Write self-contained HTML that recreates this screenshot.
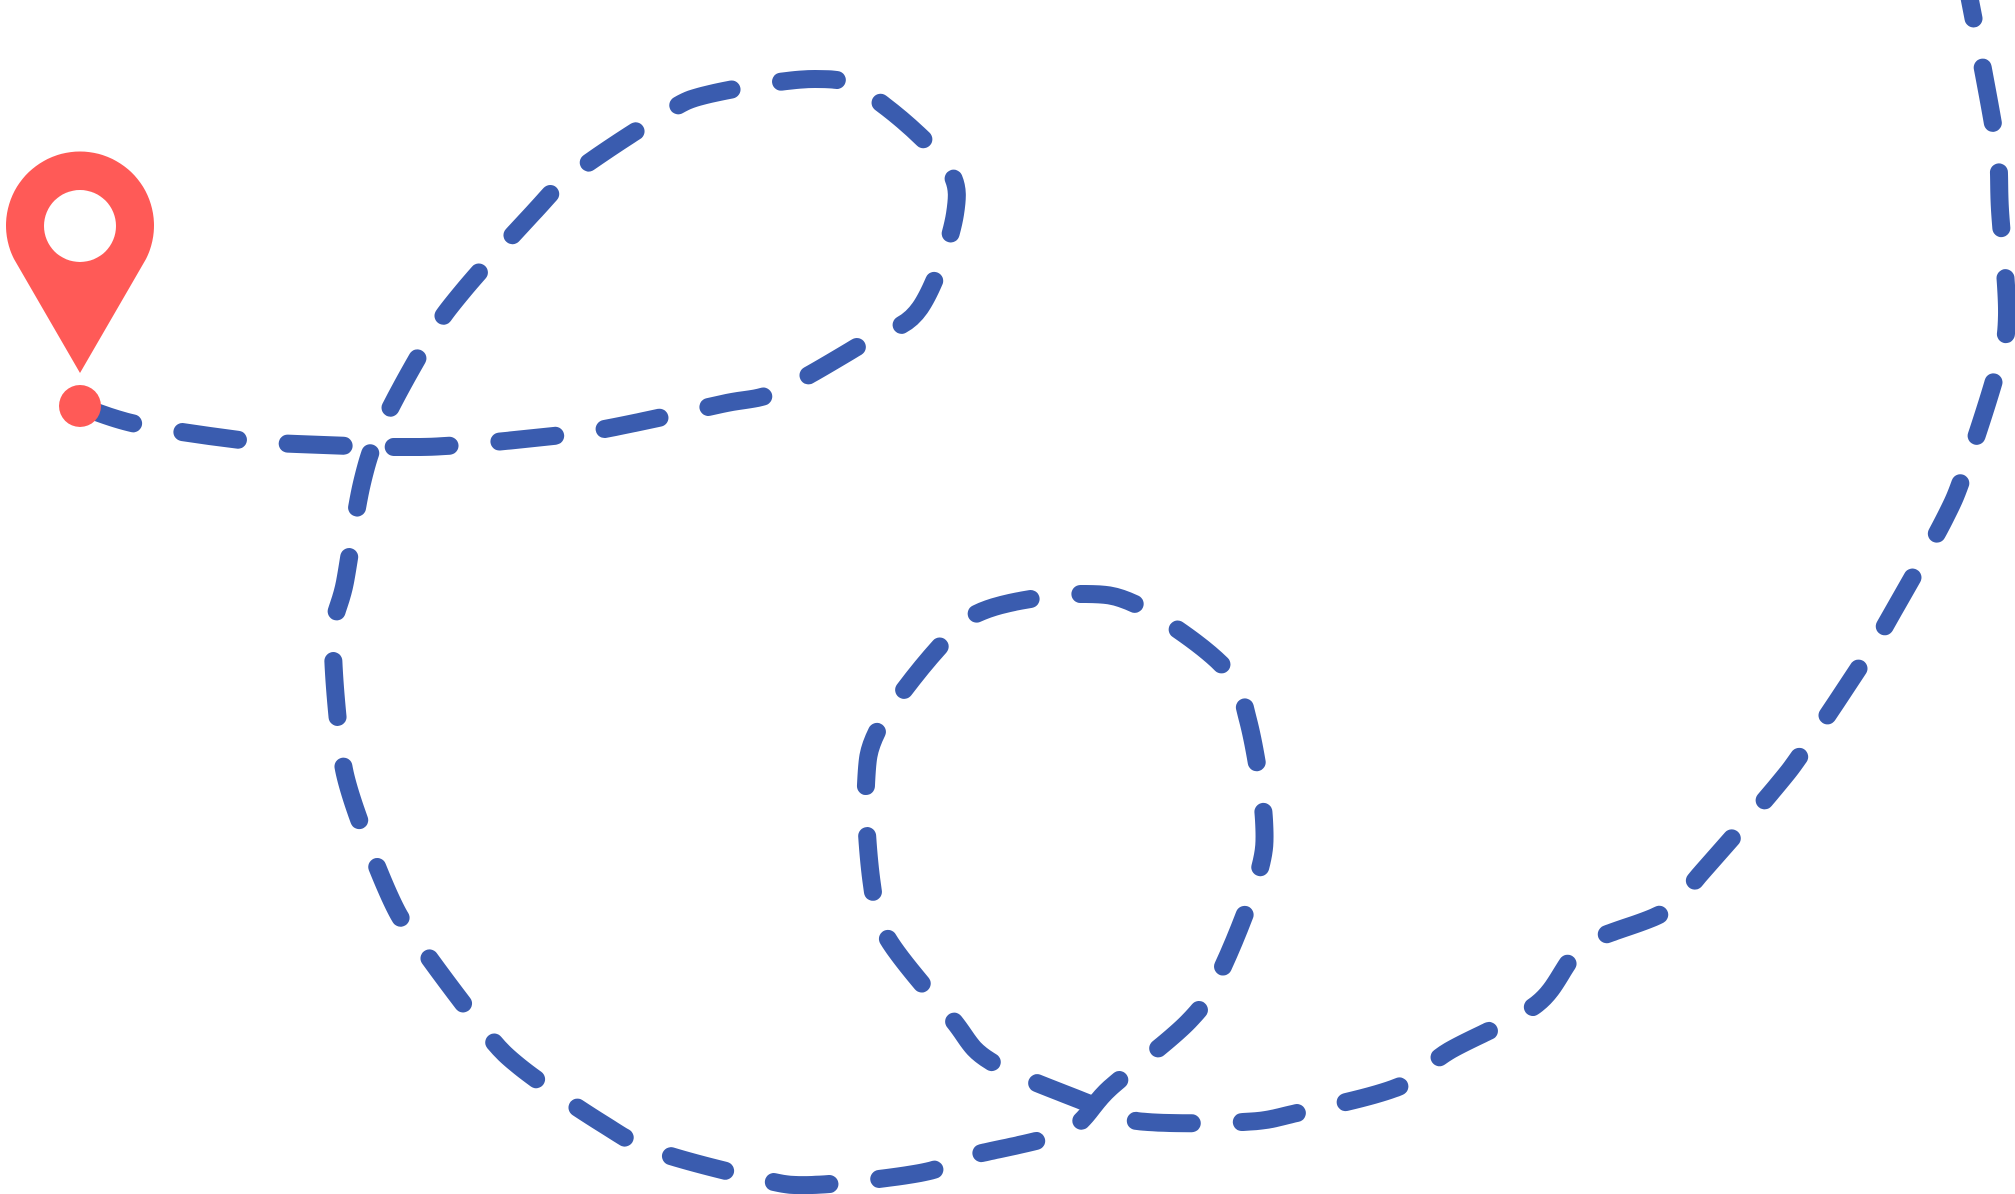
<!DOCTYPE html>
<html><head><meta charset="utf-8"><style>
html,body{margin:0;padding:0;background:#fff;width:2015px;height:1194px;overflow:hidden}
svg{display:block}
</style></head><body>
<svg width="2015" height="1194" viewBox="0 0 2015 1194" xmlns="http://www.w3.org/2000/svg">
<path id="route" d="" fill="none" stroke="#3a5caf" stroke-width="18" stroke-linecap="round" stroke-dasharray="56 50"/>
<path d="M80,373 L14,259 A74,74 0 1 1 146,259 Z" fill="#ff5a57"/>
<circle cx="80" cy="226" r="36" fill="#fff"/>
<circle cx="80" cy="406" r="21" fill="#ff5a57"/>
</svg>
<script>
var P=[[80,406],[136,424],[240,440],[297,444],[400,447],[460,445],[562,435],[615,427],[722,404],[778,391],[867,341],[920,308],[955,214],[943,161],[868,94],[815,79],[710,94],[662,115],[573,174],[533,213],[463,291],[430,337],[383,423],[362,483],[345,582],[333,636],[340,740],[352,799],[390,897],[417,941],[480,1025],[520,1067],[603,1124],[655,1151],[756,1178],[812,1185],[920,1173],[970,1156],[1066,1131],[1110,1088],[1189,1021],[1220,973],[1257,879],[1264,820],[1248,720],[1224,667],[1141,607],[1081,594],[988,609],[942,644],[880,726],[866,785],[872,885],[888,939],[952,1019],[990,1061],[1085,1102],[1137,1121],[1243,1122],[1297,1113],[1398,1087],[1449,1051],[1537,1004],[1584,946],[1664,912],[1703,871],[1775,788],[1806,747],[1866,657],[1894,610],[1944,520],[1965,470],[1997,370],[2007,315],[2000,210],[1997,150],[1980,53],[1968,-10]];
var d="M"+P[0][0]+","+P[0][1];
for(var i=0;i<P.length-1;i++){
 var p0=P[i-1]||P[i],p1=P[i],p2=P[i+1],p3=P[i+2]||P[i+1];
 var c1=[p1[0]+(p2[0]-p0[0])/6,p1[1]+(p2[1]-p0[1])/6];
 var c2=[p2[0]-(p3[0]-p1[0])/6,p2[1]-(p3[1]-p1[1])/6];
 d+=" C"+c1[0]+","+c1[1]+" "+c2[0]+","+c2[1]+" "+p2[0]+","+p2[1];
}
document.getElementById("route").setAttribute("d",d);
</script>
</body></html>
